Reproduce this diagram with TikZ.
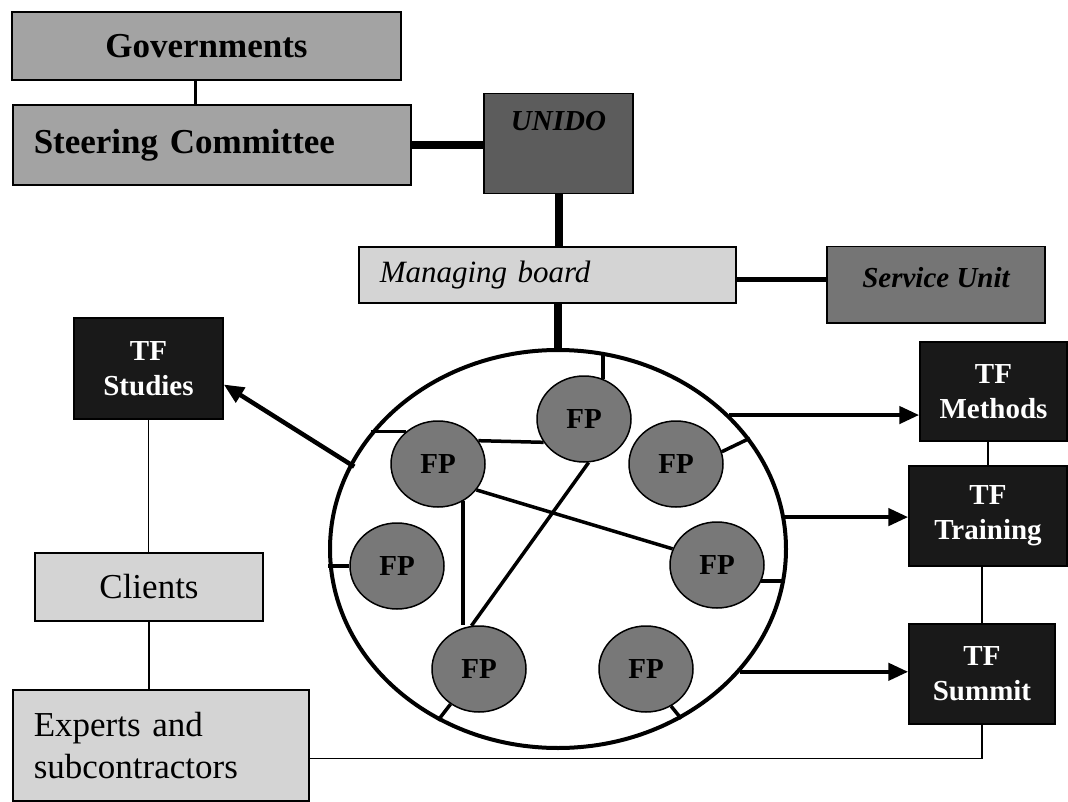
\documentclass[tikz,border=0pt]{standalone}
\usepackage{fontspec}
\setmainfont{Liberation Serif}
\usepackage{tikz}
\usetikzlibrary{shapes.geometric}
\usetikzlibrary{arrows.meta}
\definecolor{govgray}{gray}{0.64}
\definecolor{palegray}{gray}{0.83}
\definecolor{unidogray}{gray}{0.36}
\definecolor{servgray}{gray}{0.46}
\definecolor{tfgray}{gray}{0.1}
\definecolor{fpgray}{gray}{0.47}
\newcommand{\bigbold}{\fontsize{35}{40}\selectfont\bfseries}
\newcommand{\bigplain}{\fontsize{35}{42}\selectfont}
\newcommand{\tffont}{\fontsize{29}{35}\selectfont\bfseries}
\tikzstyle{box}=[rectangle, draw, line width=1.5pt, inner sep=0pt]
\tikzstyle{tfbox}=[box, fill=tfgray, text=white, font=\tffont, align=center]
\tikzstyle{fp}=[ellipse, draw, line width=1.5pt, fill=fpgray, minimum width=94pt, minimum height=86pt, inner sep=0pt, font=\fontsize{29}{30}\selectfont\bfseries]
\tikzstyle{fplink}=[line width=3.5pt]
\tikzstyle{heavy}=[line width=8pt]
\tikzstyle{thin link}=[line width=1.5pt]
\tikzstyle{arrow}=[line width=4.5pt, -{Triangle[length=20pt,width=17pt]}]

\begin{document}
\begin{tikzpicture}[x=1pt,y=-1pt]
            \useasboundingbox (0,0) rectangle (1068,802);

            %%%%% Governments / Steering Committee / UNIDO
            \node[box, fill=govgray, minimum width=389pt, minimum height=68pt, font=\bigbold] (gov) at (206.5,46) {Governments};
            \node[box, fill=govgray, anchor=west, minimum height=80pt, text width=356pt, inner xsep=21pt, align=left, font=\bigbold] (steer) at (12,145) {Steering Committee};
            \node[box, fill=unidogray, anchor=north, minimum width=149pt, text height=37pt, text depth=63pt, font=\fontsize{29}{32}\selectfont\bfseries\itshape] (unido) at (558.5,93) {UNIDO};
            \draw[line width=3pt] ([xshift=-11pt]gov.south) -- ([xshift=-11pt]gov.south |- steer.north);
            \draw[heavy] (steer.east) -- (steer.east -| unido.west);

            %%%%% Managing board / Service Unit
            \node[box, fill=palegray, anchor=west, minimum height=56pt, text width=335pt, inner xsep=21pt, align=left, font=\fontsize{31}{34}\selectfont\itshape] (board) at (358,275) {Managing board};
            \node[box, fill=servgray, anchor=north, minimum width=218pt, text height=41pt, text depth=35pt, font=\fontsize{29}{32}\selectfont\bfseries\itshape] (service) at (936,246) {Service Unit};
            \draw[heavy] (unido.south) -- (unido.south |- board.north);
            \draw[line width=5pt] ([yshift=-5pt]board.east) -- ([yshift=-5pt]board.east -| service.west);

            %%%%% Task forces
            \node[tfbox, minimum width=149pt, minimum height=101pt] (studies) at (148.5,368.5) {TF\\Studies};
            \node[tfbox, minimum width=147pt, minimum height=99pt] (methods) at (993.5,391.5) {TF\\Methods};
            \node[tfbox, minimum width=158pt, minimum height=100pt] (training) at (988,516) {TF\\Training};
            \node[tfbox, minimum width=146pt, minimum height=100pt] (summit) at (982,674) {TF\\Summit};
            \draw[thin link] (training.north) -- (training.north |- methods.south);
            \draw[thin link] (summit.north) -- (summit.north |- training.south);

            %%%%% Clients / Experts
            \node[box, fill=palegray, minimum width=228pt, minimum height=68pt, font=\bigplain] (clients) at (149,587) {Clients};
            \node[box, fill=palegray, anchor=north west, minimum height=111pt, text width=254pt, inner xsep=21pt, align=left, font=\bigplain] (experts) at (12,689) {Experts and\\subcontractors};
            \draw[thin link] (studies.south) -- (studies.south |- clients.north);
            \draw[thin link] (clients.south) -- (clients.south |- experts.north);
            \draw[thin link] (summit.south) |- ([yshift=-13pt]experts.east);

            %%%%% Focal points
            \node[ellipse, draw, line width=4pt, minimum width=456pt, minimum height=398pt, inner sep=0pt] (group) at (558,549) {};
            \draw[heavy] (group.north |- board.south) -- (group.north);
            \node[fp] (fpa) at (584,419) {FP};
            \node[fp] (fpb) at (438,464) {FP};
            \node[fp] (fpc) at (676,464) {FP};
            \node[fp] (fpd) at (397,566) {FP};
            \node[fp] (fpe) at (717,565) {FP};
            \node[fp] (fpf) at (479,669) {FP};
            \node[fp] (fpg) at (646,669) {FP};
            \draw[fplink] (fpa.65) -- (fpa.65 |- group.77);
            \draw[fplink] (fpb.135) -- (fpb.135 -| group.148);
            \draw[fplink] (fpc.15) -- (group.30);
            \draw[fplink] (fpd.west) -- (fpd.west -| group.west);
            \draw[fplink] (fpe.-20) -- (fpe.-20 -| group.-8);
            \draw[fplink] (fpf.-129) -- (group.-125);
            \draw[fplink] (fpg.-56) -- (group.-54);
            \draw[fplink] (fpb.30) -- (fpa.210);
            \draw[fplink] (fpb.-34) -- (fpe.160);
            \draw[fplink] (fpb.-56) -- (fpb.-56 |- fpf.north);
            \draw[fplink] (fpa.-84) -- (fpf.100);

            %%%%% Arrows to task forces
            \draw[arrow] ([shift={(5pt,-2pt)}]group.158) -- (studies.-12);
            \draw[arrow] (group.38) -- (group.38 -| methods.west);
            \draw[arrow] (group.8) -- (group.8 -| training.west);
            \draw[arrow] (group.-34) -- (group.-34 -| summit.west);
\end{tikzpicture}
\end{document}
